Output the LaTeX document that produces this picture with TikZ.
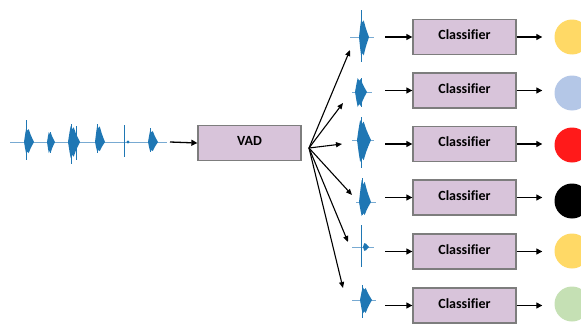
\documentclass[tikz,border=0pt]{standalone}
\usepackage{fontspec}
\setmainfont{Carlito}[Ligatures=NoCommon]
\usetikzlibrary{arrows.meta}
\definecolor{boxfill}{RGB}{216,196,218}
\definecolor{boxline}{RGB}{125,125,125}
\definecolor{wave}{RGB}{31,119,180}
\definecolor{wavelight}{RGB}{120,170,210}
\definecolor{cyellow}{RGB}{255,217,102}
\definecolor{cblue}{RGB}{180,199,231}
\definecolor{cred}{RGB}{255,26,26}
\definecolor{cgreen}{RGB}{197,224,180}
% x, y, halfwidth, up, down
\newcommand\burst[5]{\fill[wave] (#1-#3,#2) -- (#1-0.75*#3,#2-0.6*#4) -- (#1-0.55*#3,#2-#4) -- (#1-0.3*#3,#2-0.8*#4) -- (#1-0.05*#3,#2-0.92*#4) -- (#1+0.3*#3,#2-0.55*#4) -- (#1+0.6*#3,#2-0.3*#4) -- (#1+#3,#2) -- (#1+0.6*#3,#2+0.3*#5) -- (#1+0.3*#3,#2+0.55*#5) -- (#1-0.05*#3,#2+0.92*#5) -- (#1-0.3*#3,#2+0.8*#5) -- (#1-0.55*#3,#2+#5) -- (#1-0.75*#3,#2+0.6*#5) -- cycle;}
% x, top, bottom
\newcommand\spike[3]{\draw[wave, line width=1pt] (#1,#2) -- (#1,#3);}
% x1, x2, y
\newcommand\baseline[3]{\draw[wavelight, line width=0.9pt] (#1,#3) -- (#2,#3);}
\begin{document}
\begin{tikzpicture}[x=1pt,y=-1pt,
  box/.style={draw=boxline, line width=1.3pt, fill=boxfill, minimum width=103pt, minimum height=35pt, inner sep=0pt},
  lbl/.style={font=\bfseries\fontsize{14}{16}\selectfont, inner sep=0pt},
  circ/.style={circle, minimum size=35pt, inner sep=0pt},
  arr/.style={-{Triangle[length=6pt,width=6pt]}, line width=1.3pt},
  fan/.style={-{Triangle[length=6pt,width=5pt]}, line width=1.1pt}]
\useasboundingbox (0,0) rectangle (581,324);
\clip (0,0) rectangle (581,324);

% main waveform
\baseline{10}{167}{142}
\spike{26}{120}{160}\burst{29}{142}{5}{14}{12}
\spike{50}{132}{153}\burst{51}{142}{4}{10}{11}
\spike{71}{124}{164}\spike{76}{126}{160}\burst{74}{142}{6}{16}{16}
\spike{97}{124}{153}\burst{100}{142}{5}{17}{10}
\spike{124}{125}{157}\fill[wave] (128,142) circle (1.6);
\spike{150}{128}{152}\burst{153}{142}{5}{12}{10}
\coordinate (wsrc) at (170,142);

\node[box] (vad) at (249.5,143) {};
\node[lbl] (vadt) at ([yshift=2pt]vad.center) {VAD};
\draw[arr] (wsrc) -- (vad.west);
\coordinate (fan) at (309,148);

% small waveforms
\baseline{350}{374}{37}\spike{361}{10}{62}\burst{364}{37}{5}{18}{20}
\baseline{352}{372}{92}\spike{361}{78}{107}\burst{361}{92}{6}{14}{15}
\baseline{352}{374}{140}\spike{361}{117}{168}\burst{364}{140}{7}{20}{22}
\baseline{356}{376}{202}\spike{362}{178}{215}\burst{365}{202}{6}{22}{14}
\baseline{352}{374}{247}\spike{361}{225}{267}\burst{366}{247}{3}{4}{4}
\baseline{352}{376}{300}\spike{362}{285}{318}\burst{366}{300}{6}{13}{14}

\coordinate (t1) at (350,50);
\coordinate (t2) at (343,103);
\coordinate (t3) at (342,144);
\coordinate (t4) at (352,195);
\coordinate (t5) at (348,242);
\coordinate (t6) at (343,288);
\foreach \i in {1,...,6} {\draw[fan] (fan) -- (t\i);}

\foreach \i/\y in {1/37,2/90.5,3/144,4/197.5,5/251.5,6/305.5} {
  \node[box] (c\i) at (464.5,\y) {};
  \node[lbl] (ct\i) at ([yshift=2pt]c\i.center) {Classifier};
  \coordinate (s\i) at (385,\y);
}

\node[circ, fill=cyellow] (o1) at (572,37) {};
\node[circ, fill=cblue] (o2) at (572,93) {};
\node[circ, fill=cred] (o3) at (572,145) {};
\node[circ, fill=black] (o4) at (572,201) {};
\node[circ, fill=cyellow] (o5) at (572,251) {};
\node[circ, fill=cgreen] (o6) at (572,304) {};

\foreach \i in {1,...,6} {
  \draw[arr] (s\i) -- (c\i.west);
  \draw[arr, shorten >=12pt] (c\i.east) -- (c\i.east -| o\i.west);
}
\end{tikzpicture}
\end{document}
